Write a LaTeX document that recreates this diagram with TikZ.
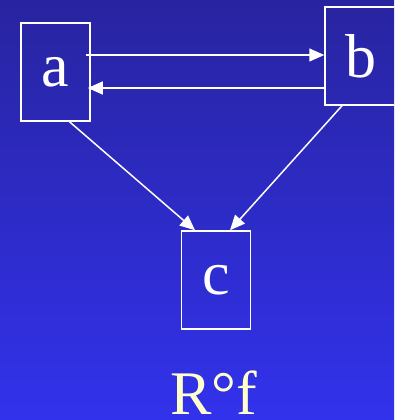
\documentclass[tikz,border=0pt]{standalone}
\usepackage{fontspec}
\setmainfont{Liberation Serif}
\usepackage{tikz}
\usetikzlibrary{arrows.meta, positioning, calc}
\definecolor{SlideTop}{RGB}{40,36,160}
\definecolor{SlideBottom}{RGB}{50,50,236}
\definecolor{SlideTitle}{HTML}{FFFFCC}

\begin{document}
\begin{tikzpicture}[
    x=1pt, y=-1pt,
    elem/.style={
      rectangle, draw=white, line width=1.5pt, minimum width=69pt,
      minimum height=98pt, inner sep=0pt, text=white,
      font=\fontsize{62}{62}\selectfont
    },
    rel/.style={-{Triangle[length=15pt, width=13pt]}, draw=white, line width=1.5pt}
  ]
    \shade[top color=SlideTop, bottom color=SlideBottom] (0,0) rectangle (394,420);
    \useasboundingbox (0,0) rectangle (394,420);
    \clip (0,0) rectangle (394,420);

    \node[elem] (a) at (55.5,72) {a};
    \node[elem, minimum width=72pt] (b) at (361,56) {b};
    \node[elem] (c) at (216,280) {c};
    \node[text=SlideTitle, anchor=base, inner sep=0pt, text depth=0pt,
      font=\fontsize{62}{62}\selectfont] (title) at (214,414) {R°f};

    \draw[rel] ([shift={(-5,-17)}]a.east) -- ([shift={(0,-1)}]b.west);
    \draw[rel] ([shift={(0,32)}]b.west) -- ([shift={(-3,16)}]a.east);
    \draw[rel] ([shift={(14,0)}]a.south) -- ([shift={(-21,0)}]c.north);
    \draw[rel] ([shift={(-19,0)}]b.south) -- ([shift={(14,0)}]c.north);
  \end{tikzpicture}
\end{document}
